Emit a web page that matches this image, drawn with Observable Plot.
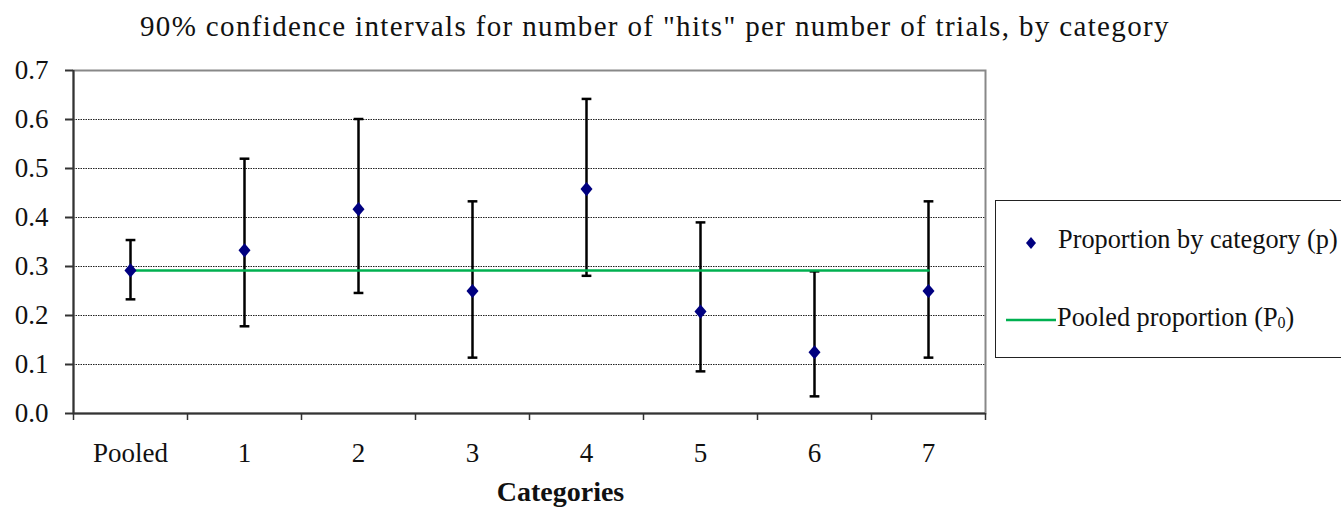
<!DOCTYPE html>
<html>
<head>
<meta charset="utf-8">
<script src="https://cdn.jsdelivr.net/npm/d3@7"></script>
<script src="https://cdn.jsdelivr.net/npm/@observablehq/plot@0.6"></script>
<style>
  body { margin: 0; background: #fff; font-family: "Liberation Serif", serif; }
  #wrap { position: relative; width: 1341px; height: 508px; overflow: hidden; }
  #title { height: 52px; line-height: 52px; font-size: 29px; letter-spacing: 1.35px; color: #111; padding-left: 140px; white-space: nowrap; }
  #legend { position: absolute; left: 995px; top: 200px; width: 370px; height: 158px; border: 1.5px solid #222; box-sizing: border-box; font-size: 26.3px; color: #111; }
  .li { position: absolute; left: 62px; white-space: nowrap; }
  sub { font-size: 16px; vertical-align: -2px; }
</style>
</head>
<body>
<div id="wrap">
  <div id="title">90% confidence intervals for number of "hits" per number of trials, by category</div>
  <div id="chart"></div>
  <div id="legend">
    <svg style="position:absolute;left:0;top:0" width="70" height="158">
      <path d="M35,36 l5,6 l-5,6 l-5,-6 Z" fill="#000080"></path>
      <line x1="10" x2="60" y1="119" y2="119" stroke="#00b050" stroke-width="2.5"></line>
    </svg>
    <div class="li" style="top:24px">Proportion by category (p)</div>
    <div class="li" style="top:102px;left:61px">Pooled proportion (P<sub>0</sub>)</div>
  </div>
</div>
<script>
const categories = ["Pooled", "1", "2", "3", "4", "5", "6", "7"];
const proportion = [0.292, 0.333, 0.417, 0.250, 0.458, 0.208, 0.125, 0.250];
const lower      = [0.233, 0.178, 0.246, 0.114, 0.281, 0.086, 0.035, 0.114];
const upper      = [0.354, 0.520, 0.601, 0.433, 0.642, 0.390, 0.290, 0.433];
const pooledP = 0.292;
const yTicks = [0, 0.1, 0.2, 0.3, 0.4, 0.5, 0.6, 0.7];

const rows = categories.map((c, i) => ({cat: c, pos: i + 0.5, p: proportion[i], lo: lower[i], hi: upper[i]}));

const capSymbol = { draw(ctx, size) { const w = Math.sqrt(size) / 2; ctx.moveTo(-w, 0); ctx.lineTo(w, 0); } };
const diamondSymbol = { draw(ctx, size) { const h = Math.sqrt(size) / 2; const w = h * 0.85; ctx.moveTo(0, -h); ctx.lineTo(w, 0); ctx.lineTo(0, h); ctx.lineTo(-w, 0); ctx.closePath(); } };

const boundaries = d3.range(0, categories.length + 1);

const chart = Plot.plot({
  width: 1341,
  height: 456,
  marginLeft: 73,
  marginRight: 356,
  marginTop: 18,
  marginBottom: 95,
  style: { fontFamily: "Liberation Serif, serif", fontSize: "27px", color: "#111", background: "white" },
  x: { type: "linear", domain: [0, categories.length], label: null },
  y: { domain: [0, 0.7], label: null },
  marks: [
    Plot.gridY([0.1, 0.2, 0.3, 0.4, 0.5, 0.6], { stroke: "#222", strokeOpacity: 1, strokeWidth: 1, strokeDasharray: "1.5,1" }),
    Plot.frame({ stroke: "#888", strokeWidth: 2 }),
    Plot.ruleY([0], { stroke: "#333", strokeWidth: 2 }),
    Plot.ruleX([0], { stroke: "#333", strokeWidth: 2 }),
    Plot.axisY({ ticks: yTicks, tickFormat: d3.format(".1f"), tickSize: 8, tickPadding: 17, strokeWidth: 2, stroke: "#333", label: null }),
    Plot.axisX({ ticks: boundaries, tickFormat: () => "", tickSize: 7, strokeWidth: 1.5, stroke: "#333", label: null }),
    Plot.axisX({ ticks: rows.map(d => d.pos), tickFormat: (d) => categories[Math.round(d - 0.5)], tickSize: 0, tickPadding: 29, letterSpacing: 0.6, label: null }),
    Plot.ruleX(rows, { x: "pos", y1: "lo", y2: "hi", stroke: "#000", strokeWidth: 2.5 }),
    Plot.dot(rows, { x: "pos", y: "lo", symbol: capSymbol, r: 5.5, fill: "none", stroke: "#000", strokeWidth: 2.5 }),
    Plot.dot(rows, { x: "pos", y: "hi", symbol: capSymbol, r: 5.5, fill: "none", stroke: "#000", strokeWidth: 2.5 }),
    Plot.line(rows, { x: "pos", y: () => pooledP, stroke: "#00b050", strokeWidth: 2.5 }),
    Plot.dot(rows, { x: "pos", y: "p", symbol: diamondSymbol, r: 8, fill: "#000080", stroke: "none" }),
    Plot.text(["Categories"], { frameAnchor: "bottom", dx: 31, dy: 87, fontWeight: "bold", fontSize: 28 })
  ]
});
document.getElementById("chart").appendChild(chart);
</script>
</body>
</html>
